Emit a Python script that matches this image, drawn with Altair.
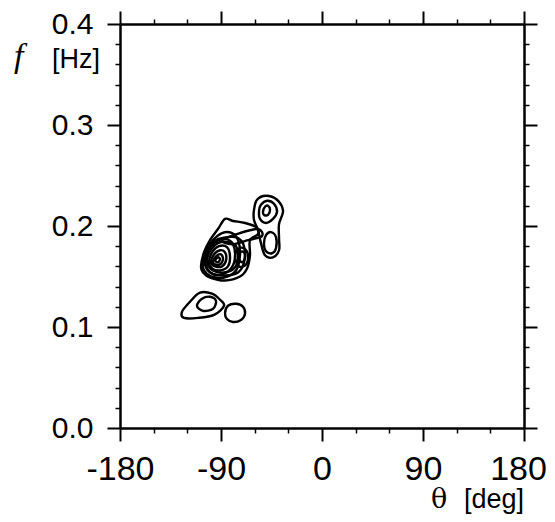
import altair as alt
import pandas as pd

# ---- contour rings (theta in deg, f in Hz) ----
ringA_theta = [-124.8, -117.6, -108.7, -98.0, -90.9, -87.3, -96.2, -110.5, -123.0]
ringA_f = [0.115, 0.125, 0.134, 0.133, 0.127, 0.121, 0.112, 0.109, 0.109]

ringB_theta = [-111.4, -106.9, -99.8, -94.5, -97.1, -106.0]
ringB_f = [0.121, 0.128, 0.130, 0.126, 0.118, 0.116]

ringC_theta = [-86.4, -83.8, -76.6, -70.4, -68.6, -72.2, -79.3, -84.7]
ringC_f = [0.114, 0.121, 0.123, 0.120, 0.113, 0.107, 0.105, 0.108]

ringD_theta = [-107.8, -105.1, -99.8, -92.7, -86.4, -79.3, -68.6, -58.8, -57.0,
               -64.2, -64.2, -66.8, -73.1, -86.4, -99.8, -106.0]
ringD_f = [0.160, 0.174, 0.186, 0.197, 0.207, 0.205, 0.203, 0.199, 0.192,
           0.186, 0.171, 0.158, 0.150, 0.146, 0.149, 0.154]

ringQ_theta = [-106.0, -103.4, -97.1, -89.1, -80.2, -74.8, -73.1, -76.6, -87.3, -98.9, -105.1]
ringQ_f = [0.162, 0.176, 0.186, 0.193, 0.193, 0.186, 0.171, 0.156, 0.149, 0.150, 0.156]

ringH_theta = [-104.3, -101.6, -94.5, -83.8, -74.8, -69.5, -69.5, -74.8, -86.4, -98.0]
ringH_f = [0.164, 0.176, 0.186, 0.189, 0.188, 0.180, 0.164, 0.154, 0.151, 0.153]

ringR_theta = [-104.3, -100.7, -93.6, -85.5, -79.3, -77.5, -81.1, -90.0, -99.8]
ringR_f = [0.164, 0.177, 0.185, 0.187, 0.182, 0.169, 0.158, 0.152, 0.154]

ringI_theta = [-102.5, -99.8, -92.7, -83.8, -76.6, -74.8, -78.4, -87.3, -97.1]
ringI_f = [0.164, 0.175, 0.183, 0.184, 0.180, 0.168, 0.158, 0.154, 0.156]

ringJ_theta = [-100.7, -98.0, -91.8, -84.7, -82.0, -83.8, -90.9, -98.0]
ringJ_f = [0.164, 0.174, 0.180, 0.179, 0.170, 0.160, 0.156, 0.158]

ringK_theta = [-98.9, -96.2, -90.9, -86.4, -85.5, -89.1, -95.3]
ringK_f = [0.164, 0.172, 0.176, 0.174, 0.166, 0.160, 0.160]

ringL_theta = [-97.1, -94.5, -90.0, -88.2, -90.9, -95.3]
ringL_f = [0.165, 0.170, 0.172, 0.167, 0.162, 0.162]

ringM_theta = [-95.3, -92.7, -90.9, -92.7]
ringM_f = [0.166, 0.169, 0.167, 0.164]

ringN_theta = [-77.5, -74.8, -69.5, -65.9, -67.7, -73.9]
ringN_f = [0.169, 0.177, 0.178, 0.171, 0.162, 0.160]

ringO_theta = [-74.8, -73.1, -69.5, -68.6, -71.3]
ringO_f = [0.169, 0.174, 0.174, 0.168, 0.164]

ringP_theta = [-89.1, -73.1, -57.0, -53.5, -65.9, -80.2]
ringP_f = [0.186, 0.193, 0.197, 0.190, 0.186, 0.182]

ringS_theta = [-60.6, -57.9, -49.9, -40.1, -34.7, -38.3, -38.3, -38.3, -43.7, -50.8, -54.4, -57.0, -60.6]
ringS_f = [0.216, 0.226, 0.230, 0.226, 0.215, 0.202, 0.188, 0.176, 0.169, 0.171, 0.183, 0.196, 0.206]

ringE_theta = [-56.1, -54.4, -49.0, -42.8, -40.1, -43.7, -49.9, -55.2]
ringE_f = [0.215, 0.221, 0.225, 0.222, 0.214, 0.207, 0.203, 0.207]

ringF_theta = [-52.6, -50.8, -48.1, -46.3, -48.1, -51.7]
ringF_f = [0.214, 0.219, 0.220, 0.216, 0.211, 0.211]

ringG_theta = [-51.7, -49.9, -45.4, -41.0, -41.0, -44.6, -49.9]
ringG_f = [0.183, 0.191, 0.194, 0.189, 0.178, 0.173, 0.175]

# ---- axis ticks ----
x_ticks = [-180, -150, -120, -90, -60, -30, 0, 30, 60, 90, 120, 150, 180]
y_ticks = [0.0, 0.02, 0.04, 0.06, 0.08, 0.1, 0.12, 0.14, 0.16, 0.18, 0.2,
           0.22, 0.24, 0.26, 0.28, 0.3, 0.32, 0.34, 0.36, 0.38, 0.4]

rings = [
    ("A", ringA_theta, ringA_f), ("B", ringB_theta, ringB_f), ("C", ringC_theta, ringC_f),
    ("D", ringD_theta, ringD_f), ("Q", ringQ_theta, ringQ_f), ("H", ringH_theta, ringH_f),
    ("R", ringR_theta, ringR_f), ("I", ringI_theta, ringI_f),
    ("J", ringJ_theta, ringJ_f), ("K", ringK_theta, ringK_f), ("L", ringL_theta, ringL_f),
    ("M", ringM_theta, ringM_f), ("N", ringN_theta, ringN_f), ("O", ringO_theta, ringO_f),
    ("P", ringP_theta, ringP_f), ("S", ringS_theta, ringS_f), ("E", ringE_theta, ringE_f),
    ("F", ringF_theta, ringF_f), ("G", ringG_theta, ringG_f),
]
rows = []
for name, th, ff in rings:
    for i, (t, f) in enumerate(zip(th, ff)):
        rows.append({"ring": name, "i": i, "theta": t, "f": f})
df = pd.DataFrame(rows)

xscale = alt.Scale(domain=[-180, 180], nice=False, zero=False)
yscale = alt.Scale(domain=[0, 0.4], nice=False, zero=False)

x_major = "datum.value % 90 === 0"
y_major = "abs(datum.value*10 - round(datum.value*10)) < 1e-6"

common = dict(
    title=None, grid=False, domainColor="black", domainWidth=2.5, tickColor="black",
    labelColor="black", labelFont="Liberation Sans", labelOverlap=False,
    labelFlush=False, labelBound=False,
)

x_bottom = alt.Axis(
    orient="bottom", values=x_ticks,
    tickSize={"condition": {"test": x_major, "value": 13}, "value": 5},
    tickWidth={"condition": {"test": x_major, "value": 2}, "value": 1.5},
    labelExpr="datum.value % 90 === 0 ? '' + datum.value : ''",
    labelOffset={"condition": {"test": "datum.value === 180", "value": -6}, "value": 0},
    labelFontSize=34, labelPadding=11, **common)
y_left = alt.Axis(
    orient="left", values=y_ticks,
    tickSize={"condition": {"test": y_major, "value": 13}, "value": 5},
    tickWidth={"condition": {"test": y_major, "value": 2}, "value": 1.5},
    labelExpr="abs(datum.value*10 - round(datum.value*10)) < 1e-6 ? format(datum.value, '.1f') : ''",
    labelFontSize=30, labelPadding=14, **common)
x_top = alt.Axis(
    orient="top", values=x_ticks, labels=False,
    tickSize={"condition": {"test": x_major, "value": 13}, "value": 5},
    tickWidth={"condition": {"test": x_major, "value": 2}, "value": 1.5}, **common)
y_right = alt.Axis(
    orient="right", values=y_ticks, labels=False,
    tickSize={"condition": {"test": y_major, "value": 13}, "value": 5},
    tickWidth={"condition": {"test": y_major, "value": 2}, "value": 1.5}, **common)

contours = alt.Chart(df).mark_line(
    color="black", strokeWidth=2.4, interpolate="cardinal-closed"
).encode(
    x=alt.X("theta:Q", scale=xscale, axis=x_bottom),
    y=alt.Y("f:Q", scale=yscale, axis=y_left),
    detail="ring:N",
    order="i:Q",
)

frame = alt.Chart(df).mark_line(strokeOpacity=0).encode(
    x=alt.X("theta:Q", scale=xscale, axis=x_top),
    y=alt.Y("f:Q", scale=yscale, axis=y_right),
    detail="ring:N",
    order="i:Q",
)

one = pd.DataFrame({"k": [0]})
t_f = alt.Chart(one).mark_text(
    text="f", font="Liberation Serif", fontStyle="italic", fontSize=34,
    align="left", baseline="alphabetic", color="black"
).encode(x=alt.value(-106), y=alt.value(43))
t_hz = alt.Chart(one).mark_text(
    text="[Hz]", font="Liberation Sans", fontSize=27,
    align="left", baseline="alphabetic", color="black"
).encode(x=alt.value(-68), y=alt.value(44))
t_theta = alt.Chart(one).mark_text(
    text="θ", font="DejaVu Serif", fontSize=27,
    align="left", baseline="alphabetic", color="black"
).encode(x=alt.value(311), y=alt.value(484))
t_deg = alt.Chart(one).mark_text(
    text="[deg]", font="Liberation Sans", fontSize=27,
    align="left", baseline="alphabetic", color="black"
).encode(x=alt.value(344), y=alt.value(484))

chart = alt.layer(contours, frame, t_f, t_hz, t_theta, t_deg).resolve_axis(
    x="independent", y="independent"
).properties(
    width=404, height=404,
    autosize=alt.AutoSizeParams(type="none"),
    padding={"left": 112, "top": 16, "right": 23, "bottom": 86},
).configure_view(strokeWidth=0)

chart.save("out.html", embed_options={"renderer": "svg", "actions": False})
